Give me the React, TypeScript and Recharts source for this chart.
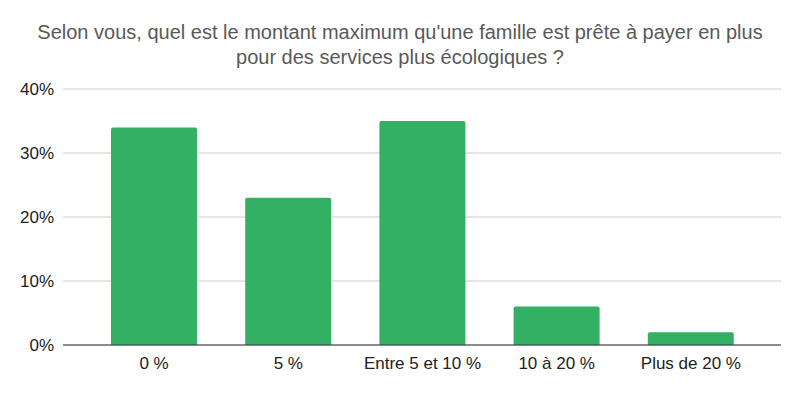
import { BarChart, Bar, XAxis, YAxis, CartesianGrid } from "recharts";

const categories = ["0 %", "5 %", "Entre 5 et 10 %", "10 à 20 %", "Plus de 20 %"];
const shares = [34, 23, 35, 6, 2];
const yTicks = [0, 10, 20, 30, 40];
const titleLines = [
  "Selon vous, quel est le montant maximum qu'une famille est prête à payer en plus",
  "pour des services plus écologiques ?",
];

const data = categories.map((name, i) => ({ name, value: shares[i] }));

const FONT = "'Liberation Sans', Arial, sans-serif";

export default function App() {
  return (
    <div style={{ position: "relative", width: 800, height: 393, background: "#fff", fontFamily: FONT }}>
      <style>{`body { margin: 0; }`}</style>
      <div
        style={{
          position: "absolute",
          top: 20,
          left: 0,
          width: 800,
          textAlign: "center",
          fontSize: 20,
          lineHeight: "25px",
          color: "#595959",
        }}
      >
        {titleLines.map((l) => (
          <div key={l}>{l}</div>
        ))}
      </div>
      <BarChart width={800} height={393} data={data} margin={{ top: 89, right: 19, bottom: 0, left: 0 }}>
        <CartesianGrid vertical={false} stroke="#cccccc" />
        <XAxis
          dataKey="name"
          height={48}
          padding={{ left: 24, right: 23 }}
          tickLine={false}
          tickSize={0}
          tickMargin={12}
          axisLine={{ stroke: "#333333", strokeWidth: 1 }}
          tick={{ fill: "#222222", fontSize: 17, fontFamily: FONT }}
          interval={0}
        />
        <YAxis
          width={63}
          domain={[0, 40]}
          ticks={yTicks}
          tickFormatter={(v) => `${v}%`}
          axisLine={false}
          tickLine={false}
          tickSize={0}
          tickMargin={9}
          tick={{ fill: "#222222", fontSize: 17, fontFamily: FONT }}
        />
        <Bar dataKey="value" fill="#33b064" barSize={86} radius={[2, 2, 0, 0]} isAnimationActive={false} />
      </BarChart>
    </div>
  );
}
